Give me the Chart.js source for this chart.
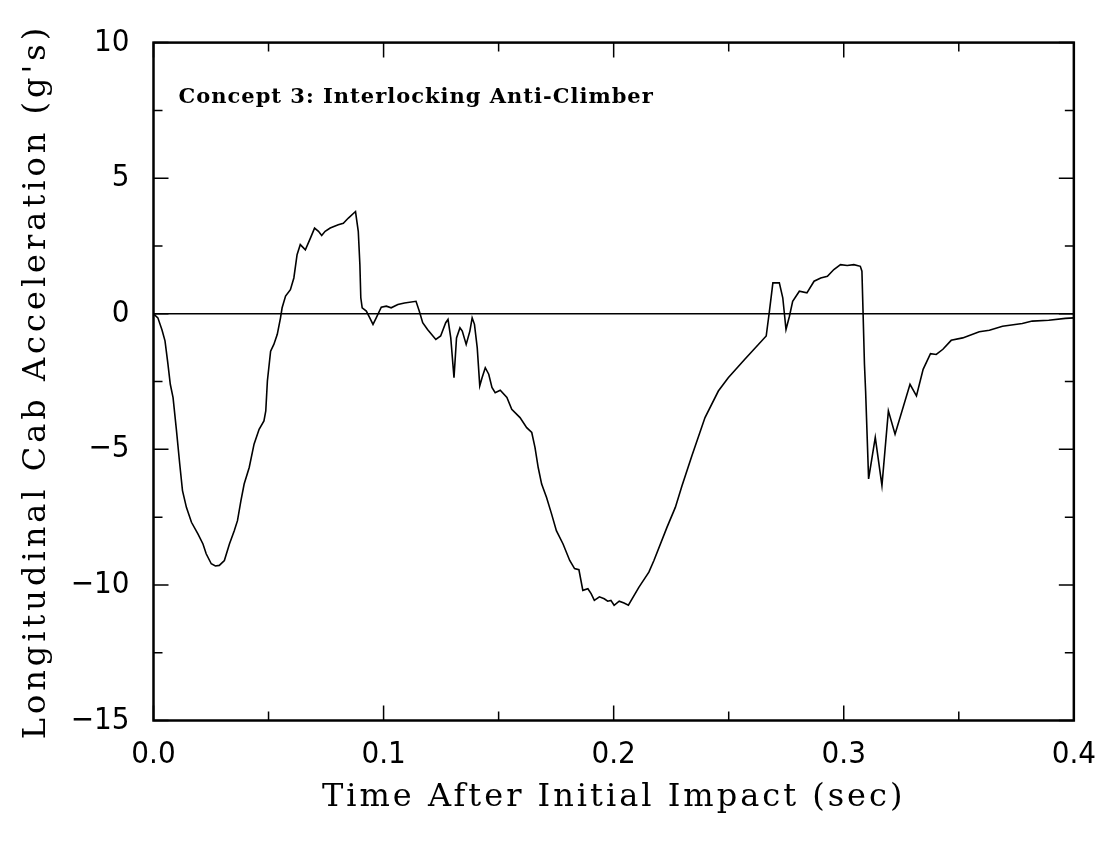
<!DOCTYPE html>
<html>
<head>
<meta charset="utf-8">
<script src="https://cdn.jsdelivr.net/npm/chart.js@4.4.1/dist/chart.umd.min.js"></script>
<style>
  body { margin: 0; background: #fff; }
</style>
</head>
<body>
<canvas id="chart" width="1112" height="842"></canvas>
<script>
// time after impact (sec)
const timeSec = [
  0, 0.0019, 0.0037, 0.0050, 0.0062, 0.0073, 0.0085, 0.0100, 0.0114, 0.0126,
  0.0143, 0.0165, 0.0193, 0.0215, 0.0229, 0.0251, 0.0269, 0.0286, 0.0308, 0.0330,
  0.0351, 0.0365, 0.0380, 0.0394, 0.0416, 0.0437, 0.0459, 0.0480, 0.0488, 0.0495,
  0.0509, 0.0523, 0.0538, 0.0552, 0.0559, 0.0574, 0.0595, 0.0610, 0.0624, 0.0638,
  0.0660, 0.0682, 0.0700, 0.0717, 0.0731, 0.0746, 0.0768, 0.0803, 0.0825, 0.0847,
  0.0878, 0.0890, 0.0897, 0.0901, 0.0907, 0.0925, 0.0940, 0.0954, 0.0968, 0.0990,
  0.1012, 0.1033, 0.1062, 0.1091, 0.1141, 0.1155, 0.1170, 0.1191, 0.1227, 0.1248,
  0.1270, 0.1280, 0.1292, 0.1306, 0.1317, 0.1332, 0.1342, 0.1359, 0.1375, 0.1385,
  0.1395, 0.1407, 0.1418, 0.1428, 0.1442, 0.1457, 0.1471, 0.1485, 0.1507, 0.1536,
  0.1557, 0.1593, 0.1622, 0.1644, 0.1658, 0.1672, 0.1687, 0.1708, 0.1730, 0.1751,
  0.1780, 0.1809, 0.1830, 0.1849, 0.1866, 0.1888, 0.1902, 0.1916, 0.1938, 0.1959,
  0.1974, 0.1988, 0.2002, 0.2024, 0.2045, 0.2064, 0.2110, 0.2153, 0.2175, 0.2232,
  0.2268, 0.2297, 0.2340, 0.2397, 0.2455, 0.2498, 0.2570, 0.2663, 0.2677, 0.2692,
  0.2720, 0.2735, 0.2749, 0.2764, 0.2778, 0.2807, 0.2840, 0.2871, 0.2900, 0.2929,
  0.2957, 0.2986, 0.3015, 0.3044, 0.3072, 0.3079, 0.3084, 0.3090, 0.3095, 0.3108,
  0.3137, 0.3166, 0.3194, 0.3223, 0.3288, 0.3316, 0.3345, 0.3377, 0.3402, 0.3431,
  0.3467, 0.3517, 0.3589, 0.3633, 0.3690, 0.3776, 0.3819, 0.3891, 0.3963, 0.4000
];

// longitudinal cab acceleration (g's)
const accelG = [
  0, -0.15, -0.6, -1.0, -1.8, -2.6, -3.09, -4.32, -5.54, -6.52,
  -7.14, -7.69, -8.12, -8.49, -8.85, -9.22, -9.30, -9.28, -9.10, -8.49,
  -8.0, -7.63, -6.89, -6.28, -5.67, -4.81, -4.26, -3.95, -3.58, -2.48,
  -1.38, -1.13, -0.76, -0.15, 0.22, 0.65, 0.89, 1.32, 2.18, 2.55,
  2.36, 2.79, 3.16, 3.04, 2.89, 3.04, 3.16, 3.28, 3.34, 3.53,
  3.77, 3.04, 1.81, 0.59, 0.22, 0.10, -0.15, -0.39, -0.15, 0.24,
  0.28, 0.22, 0.34, 0.40, 0.46, 0.10, -0.33, -0.58, -0.95, -0.82,
  -0.33, -0.21, -0.89, -2.36, -0.89, -0.52, -0.64, -1.13, -0.64, -0.15,
  -0.39, -1.25, -2.66, -2.36, -1.99, -2.23, -2.72, -2.91, -2.82, -3.09,
  -3.52, -3.83, -4.20, -4.38, -4.93, -5.67, -6.28, -6.77, -7.38, -8.0,
  -8.49, -9.10, -9.40, -9.44, -10.20, -10.14, -10.32, -10.57, -10.44, -10.51,
  -10.60, -10.57, -10.75, -10.60, -10.67, -10.75, -10.08, -9.53, -9.10, -7.87,
  -7.14, -6.34, -5.24, -3.83, -2.85, -2.36, -1.68, -0.82, 0.10, 1.14,
  1.14, 0.59, -0.58, -0.09, 0.46, 0.83, 0.77, 1.20, 1.32, 1.38,
  1.63, 1.81, 1.78, 1.81, 1.75, 1.57, 0.03, -1.86, -2.85, -6.09,
  -4.56, -6.34, -3.58, -4.44, -2.60, -3.03, -2.05, -1.47, -1.50, -1.31,
  -0.98, -0.89, -0.66, -0.61, -0.46, -0.36, -0.27, -0.24, -0.17, -0.15
];

const xTitle = 'Time After Initial Impact (sec)';
const yTitle = "Longitudinal Cab Acceleration (g's)";
const noteText = 'Concept 3: Interlocking Anti-Climber';

const points = timeSec.map((t, i) => ({ x: t, y: accelG[i] }));

// frame, inward ticks, zero line, titles and the note
const framePlugin = {
  id: 'framePlugin',
  afterDatasetsDraw(chart) {
    const { ctx, chartArea: a, scales: { x, y } } = chart;
    ctx.save();
    ctx.strokeStyle = '#000';
    ctx.lineCap = 'butt';

    ctx.lineWidth = 1.5;
    const y0 = y.getPixelForValue(0);
    ctx.beginPath();
    ctx.moveTo(a.left, y0);
    ctx.lineTo(a.right, y0);
    ctx.stroke();

    ctx.beginPath();
    for (let i = 0; i <= 8; i++) {
      const px = x.getPixelForValue(i * 0.05);
      const len = i % 2 === 0 ? 15 : 9;
      ctx.moveTo(px, a.bottom);
      ctx.lineTo(px, a.bottom - len);
      ctx.moveTo(px, a.top);
      ctx.lineTo(px, a.top + len);
    }
    for (let i = 0; i <= 10; i++) {
      const py = y.getPixelForValue(-15 + i * 2.5);
      const len = i % 2 === 0 ? 15 : 9;
      ctx.moveTo(a.left, py);
      ctx.lineTo(a.left + len, py);
      ctx.moveTo(a.right, py);
      ctx.lineTo(a.right - len, py);
    }
    ctx.stroke();

    ctx.lineWidth = 2.5;
    ctx.strokeRect(a.left, a.top, a.right - a.left, a.bottom - a.top);

    ctx.fillStyle = '#000';
    ctx.font = 'bold 21px "DejaVu Serif"';
    ctx.letterSpacing = '1px';
    ctx.textAlign = 'left';
    ctx.textBaseline = 'alphabetic';
    ctx.fillText(noteText, a.left + 25, a.top + 60);

    ctx.font = '32px "DejaVu Serif"';
    ctx.letterSpacing = '3px';
    ctx.textAlign = 'center';
    ctx.fillText(xTitle, (a.left + a.right) / 2, 806);

    ctx.letterSpacing = '4px';
    ctx.translate(45, (a.top + a.bottom) / 2);
    ctx.rotate(-Math.PI / 2);
    ctx.fillText(yTitle, 0, 0);
    ctx.restore();
  }
};

const tickFont = { family: "'Liberation Sans Narrow', 'DejaVu Sans Condensed', sans-serif", size: 31 };

new Chart(document.getElementById('chart'), {
  type: 'line',
  data: {
    datasets: [{
      data: points,
      borderColor: '#000',
      borderWidth: 1.6,
      pointRadius: 0,
      tension: 0,
      fill: false
    }]
  },
  options: {
    responsive: false,
    animation: false,
    layout: { padding: { top: 41, right: 30, left: 0, bottom: 0 } },
    plugins: { legend: { display: false }, tooltip: { enabled: false } },
    scales: {
      x: {
        type: 'linear',
        min: 0,
        max: 0.4,
        border: { display: false },
        grid: { display: false, drawTicks: false },
        ticks: {
          stepSize: 0.1,
          padding: 16,
          color: '#000',
          font: tickFont,
          maxRotation: 0,
          callback: (v) => v.toFixed(1)
        },
        afterFit: (s) => { s.height = 121.5; }
      },
      y: {
        min: -15,
        max: 10,
        border: { display: false },
        grid: { display: false, drawTicks: false },
        ticks: {
          stepSize: 5,
          padding: 24,
          color: '#000',
          font: tickFont,
          callback: (v) => (v < 0 ? '\u2212' + Math.abs(v) : String(v))
        },
        afterFit: (s) => { s.width = 153.5; }
      }
    }
  },
  plugins: [framePlugin]
});
</script>
</body>
</html>
